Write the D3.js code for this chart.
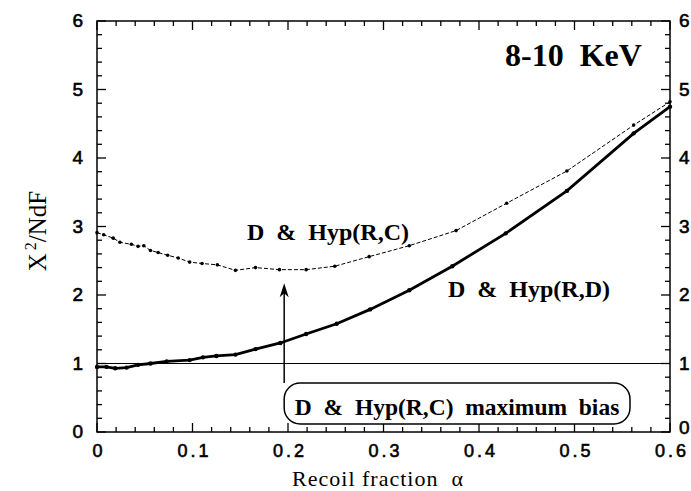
<!DOCTYPE html>
<html>
<head>
<meta charset="utf-8">
<script src="https://cdn.jsdelivr.net/npm/d3@7"></script>
<style>
  body { margin: 0; background: #fff; }
  svg { display: block; }
</style>
</head>
<body>
<div class="chart"></div>
<script>
// Data
var alphaRC = [0, 0.007, 0.017, 0.024, 0.036, 0.043, 0.049, 0.056, 0.064, 0.074, 0.085, 0.097, 0.110, 0.126, 0.145, 0.166, 0.191, 0.219, 0.249, 0.285, 0.327, 0.376, 0.429, 0.492, 0.562, 0.6];
var chiRC   = [2.91, 2.88, 2.83, 2.77, 2.74, 2.71, 2.72, 2.65, 2.62, 2.58, 2.54, 2.48, 2.46, 2.44, 2.36, 2.40, 2.37, 2.37, 2.42, 2.56, 2.72, 2.94, 3.34, 3.81, 4.48, 4.82];

var alphaRD = [0, 0.01, 0.019, 0.031, 0.043, 0.056, 0.073, 0.097, 0.111, 0.125, 0.145, 0.166, 0.192, 0.219, 0.251, 0.286, 0.327, 0.372, 0.428, 0.492, 0.562, 0.6];
var chiRD   = [0.95, 0.95, 0.93, 0.94, 0.98, 1.00, 1.03, 1.05, 1.09, 1.11, 1.13, 1.21, 1.30, 1.43, 1.58, 1.79, 2.07, 2.42, 2.90, 3.52, 4.36, 4.75];

var xTicks = [0, 0.1, 0.2, 0.3, 0.4, 0.5, 0.6];
var yTicks = [0, 1, 2, 3, 4, 5, 6];
var refLevel = 1;
var arrowAlpha = 0.196, arrowTip = 2.17;

var svgWidth = 691, svgHeight = 491;
var margin = { top: 21, right: 21, bottom: 59, left: 97 };
var width = 670 - margin.left;
var height = 432 - margin.top;

var svg = d3.select(".chart").append("svg")
  .attr("width", svgWidth)
  .attr("height", svgHeight);

var g = svg.append("g")
  .attr("transform", `translate(${margin.left}, ${margin.top})`);

var x = d3.scaleLinear().domain([0, 0.6]).range([0, width]);
var y = d3.scaleLinear().domain([0, 6]).range([height, 0]);

var tickFont = "'Liberation Sans', Arial, sans-serif";
var serif = "'Liberation Serif', 'Times New Roman', serif";

// frame
g.append("rect").attr("width", width).attr("height", height)
  .attr("fill", "none").attr("stroke", "#000").attr("stroke-width", 1.5);

// minor + major ticks (inside) on all four sides
var xMinor = d3.range(0, 0.6001, 0.02);
var yMinor = d3.range(0, 6.001, 0.2);
function isMajor(v, step) { return Math.abs(v / step - Math.round(v / step)) < 1e-6; }

xMinor.forEach(function(v) {
  var len = isMajor(v, 0.1) ? 9 : 5;
  g.append("line").attr("x1", x(v)).attr("x2", x(v)).attr("y1", height).attr("y2", height - len)
    .attr("stroke", "#000").attr("stroke-width", 1.3);
  g.append("line").attr("x1", x(v)).attr("x2", x(v)).attr("y1", 0).attr("y2", len)
    .attr("stroke", "#000").attr("stroke-width", 1.3);
});
yMinor.forEach(function(v) {
  var len = isMajor(v, 1) ? 9 : 5;
  g.append("line").attr("x1", 0).attr("x2", len).attr("y1", y(v)).attr("y2", y(v))
    .attr("stroke", "#000").attr("stroke-width", 1.3);
  g.append("line").attr("x1", width).attr("x2", width - len).attr("y1", y(v)).attr("y2", y(v))
    .attr("stroke", "#000").attr("stroke-width", 1.3);
});

// tick labels
function tickText(sel) {
  sel.attr("font-family", tickFont).attr("font-size", 18)
    .attr("letter-spacing", 3)
    .attr("stroke", "#000").attr("stroke-width", 0.6);
}
g.selectAll(".xl").data(xTicks).enter().append("text")
  .attr("x", d => x(d) + 2).attr("y", height + 25)
  .attr("text-anchor", "middle")
  .call(tickText)
  .text(d => d3.format(".1~f")(d));

g.selectAll(".yl").data(yTicks).enter().append("text")
  .attr("x", -14).attr("y", d => y(d) + 6)
  .attr("text-anchor", "end")
  .call(tickText)
  .attr("letter-spacing", 0).attr("font-size", 19)
  .text(d => d);

// right-hand labels sit close to the window edge
g.selectAll(".yr").data(yTicks).enter().append("text")
  .attr("x", width + 9).attr("y", d => y(d) + (d === 0 ? 2 : 6))
  .attr("text-anchor", "start")
  .call(tickText)
  .attr("letter-spacing", 0).attr("font-size", 19)
  .text(d => d);

// reference line at 1
g.append("line").attr("x1", 0).attr("x2", width)
  .attr("y1", y(refLevel)).attr("y2", y(refLevel))
  .attr("stroke", "#000").attr("stroke-width", 1);

// curves
var line = d3.line().x(d => x(d[0])).y(d => y(d[1]));
var rc = d3.zip(alphaRC, chiRC);
var rd = d3.zip(alphaRD, chiRD);

g.append("path").datum(rc).attr("d", line)
  .attr("fill", "none").attr("stroke", "#000").attr("stroke-width", 1)
  .attr("stroke-dasharray", "4,2");
g.selectAll(".prc").data(rc).enter().append("circle")
  .attr("cx", d => x(d[0])).attr("cy", d => y(d[1])).attr("r", 1.8).attr("fill", "#000");

g.append("path").datum(rd).attr("d", line)
  .attr("fill", "none").attr("stroke", "#000").attr("stroke-width", 2.8);
g.selectAll(".prd").data(rd).enter().append("circle")
  .attr("cx", d => x(d[0])).attr("cy", d => y(d[1])).attr("r", 2.2).attr("fill", "#000");

// annotation: arrow + box
var boxTop = 383 - margin.top, boxBottom = 424 - margin.top;
g.append("line").attr("x1", x(arrowAlpha)).attr("x2", x(arrowAlpha))
  .attr("y1", boxTop).attr("y2", y(arrowTip) + 6)
  .attr("stroke", "#000").attr("stroke-width", 1.5);
g.append("path")
  .attr("d", `M${x(arrowAlpha)},${y(arrowTip)} l-4.5,14 l4.5,-4 l4.5,4 z`)
  .attr("fill", "#000");

g.append("rect")
  .attr("x", x(arrowAlpha)).attr("y", boxTop)
  .attr("width", 630 - margin.left - x(arrowAlpha)).attr("height", boxBottom - boxTop)
  .attr("rx", 16).attr("ry", 16)
  .attr("fill", "#fff").attr("stroke", "#000").attr("stroke-width", 1.5);

g.append("text")
  .attr("x", (x(arrowAlpha) + 630 - margin.left) / 2).attr("y", 415 - margin.top)
  .attr("text-anchor", "middle")
  .attr("font-family", serif).attr("font-weight", "bold").attr("font-size", 23.5)
  .style("white-space", "pre")
  .text("D  &  Hyp(R,C)  maximum  bias");

// curve labels
g.append("text").attr("x", 247 - margin.left).attr("y", 240 - margin.top)
  .attr("font-family", serif).attr("font-weight", "bold").attr("font-size", 24)
  .style("white-space", "pre").text("D  &  Hyp(R,C)");
g.append("text").attr("x", 448 - margin.left).attr("y", 297 - margin.top)
  .attr("font-family", serif).attr("font-weight", "bold").attr("font-size", 24)
  .style("white-space", "pre").text("D  &  Hyp(R,D)");

g.append("text").attr("x", 505 - margin.left).attr("y", 66 - margin.top)
  .attr("font-family", serif).attr("font-weight", "bold").attr("font-size", 32)
  .style("white-space", "pre").text("8-10  KeV");

// axis titles
svg.append("text")
  .attr("x", 378).attr("y", 486)
  .attr("text-anchor", "middle")
  .attr("font-family", serif).attr("font-size", 22)
  .attr("letter-spacing", 1)
  .style("white-space", "pre")
  .text("Recoil fraction  \u03b1");

var yt = svg.append("text")
  .attr("transform", "translate(46, 231) rotate(-90)")
  .attr("text-anchor", "middle")
  .attr("font-family", serif).attr("font-size", 25);
yt.append("tspan").text("X");
yt.append("tspan").attr("dx", 3).attr("dy", -10).attr("font-size", 16).text("2");
yt.append("tspan").attr("dy", 10).text("/NdF");
</script>
</body>
</html>
